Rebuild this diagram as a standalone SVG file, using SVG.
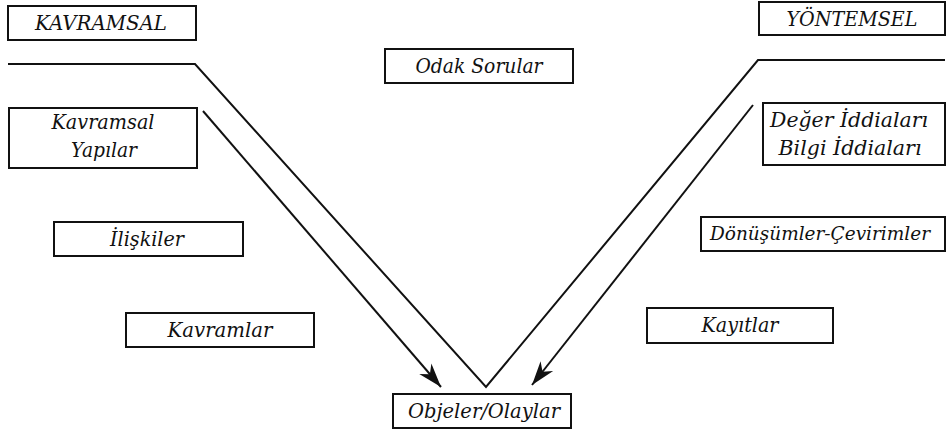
<svg xmlns="http://www.w3.org/2000/svg" width="947" height="430" viewBox="0 0 947 430">
<style>
.box{fill:#fff;stroke:#111;stroke-width:2}
.ln{fill:none;stroke:#111;stroke-width:2}
.t{font-family:"DejaVu Serif","Liberation Serif",serif;font-style:italic;font-size:21px;fill:#111;text-anchor:middle}
</style>
<defs>
<marker id="ah" markerUnits="userSpaceOnUse" markerWidth="26" markerHeight="16" refX="24" refY="8" orient="auto" overflow="visible">
<path d="M0,0 L24,8 L0,16 L7,8 z" fill="#111"/>
</marker>
</defs>
<rect width="947" height="430" fill="#fff"/>
<g id="connectors">
<polyline class="ln" points="8,64 195,64 486,387 758,60 945,60"/>
<line class="ln" x1="203" y1="111" x2="441" y2="387" marker-end="url(#ah)"/>
<line class="ln" x1="753" y1="105" x2="532" y2="385" marker-end="url(#ah)"/>
</g>
<g id="kavramsal"><rect class="box" x="8" y="6" width="188" height="34"/><text class="t" x="101" y="30" textLength="132" lengthAdjust="spacingAndGlyphs">KAVRAMSAL</text></g>
<g id="yontemsel"><rect class="box" x="759" y="2" width="186" height="33"/><text class="t" x="852" y="26" textLength="131" lengthAdjust="spacingAndGlyphs">YÖNTEMSEL</text></g>
<g id="odak"><rect class="box" x="385" y="49" width="188" height="34"/><text class="t" x="479" y="73" textLength="127" lengthAdjust="spacingAndGlyphs">Odak Sorular</text></g>
<g id="kavramsal-yapilar"><rect class="box" x="9" y="108" width="188" height="60"/><text class="t" x="103" y="129" textLength="103" lengthAdjust="spacingAndGlyphs">Kavramsal</text><text class="t" x="104" y="157" textLength="66" lengthAdjust="spacingAndGlyphs">Yapılar</text></g>
<g id="iddialar"><rect class="box" x="763" y="103" width="182" height="62"/><text class="t" x="849" y="127" textLength="158" lengthAdjust="spacingAndGlyphs">Değer İddiaları</text><text class="t" x="850" y="155" textLength="143" lengthAdjust="spacingAndGlyphs">Bilgi İddiaları</text></g>
<g id="iliskiler"><rect class="box" x="54" y="222" width="189" height="34"/><text class="t" x="147" y="246" textLength="74" lengthAdjust="spacingAndGlyphs">İlişkiler</text></g>
<g id="donusumler"><rect class="box" x="701" y="217" width="244" height="34"/><text class="t" x="820" y="240" style="font-size:19px" textLength="220" lengthAdjust="spacingAndGlyphs">Dönüşümler-Çevirimler</text></g>
<g id="kavramlar"><rect class="box" x="126" y="313" width="188" height="34"/><text class="t" x="220" y="337" textLength="105" lengthAdjust="spacingAndGlyphs">Kavramlar</text></g>
<g id="kayitlar"><rect class="box" x="647" y="308" width="186" height="35"/><text class="t" x="740" y="332" textLength="77" lengthAdjust="spacingAndGlyphs">Kayıtlar</text></g>
<g id="objeler"><rect class="box" x="393" y="394" width="178" height="34"/><text class="t" x="484" y="418" textLength="152" lengthAdjust="spacingAndGlyphs">Objeler/Olaylar</text></g>
</svg>
